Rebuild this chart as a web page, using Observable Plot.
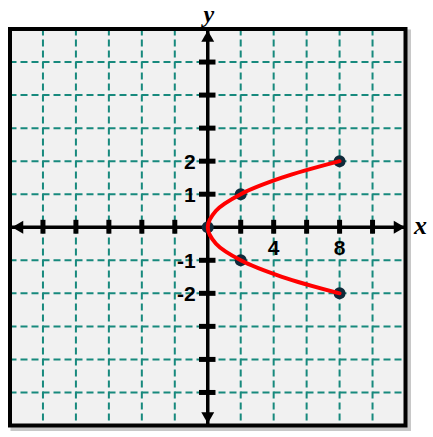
<!DOCTYPE html>
<html>
<head>
<meta charset="utf-8">
<script src="https://cdn.jsdelivr.net/npm/d3@7"></script>
<script src="https://cdn.jsdelivr.net/npm/@observablehq/plot@0.6"></script>
<style>
  html, body { margin: 0; padding: 0; background: #ffffff; }
  #chart svg { display: block; }
</style>
</head>
<body>
<div id="chart"></div>
<script>
// Domain of the graph paper
const xDomain = [-12, 12];
const yDomain = [-6, 6];

// Grid line positions (dashed)
const xGrid = [-10, -8, -6, -4, -2, 2, 4, 6, 8, 10];
const yGrid = [-5, -4, -3, -2, -1, 1, 2, 3, 4, 5];

// Tick labels
const xTickLabels = [4, 8];
const yTickLabels = [2, 1, -1, -2];

// Plotted points of x = 2y^2
const pointX = [0, 2, 2, 8, 8];
const pointY = [0, 1, -1, 2, -2];

// Curve (ordered along the curve)
const curveX = [8, 4.5, 2, 0.5, 0, 0.5, 2, 4.5, 8];
const curveY = [-2, -1.5, -1, -0.5, 0, 0.5, 1, 1.5, 2];

const points = pointX.map((x, i) => ({x, y: pointY[i]}));
const curve = curveX.map((x, i) => ({x, y: curveY[i]}));

const teal = "#17897d";
const numFont = "Liberation Sans, Arial, sans-serif";
const serif = "Liberation Serif, Times New Roman, serif";

const arrowStyle = {symbol: "triangle", r: 4.8, fill: "#000", stroke: "none"};

const chart = Plot.plot({
  width: 433,
  height: 437,
  marginLeft: 9.5,
  marginRight: 28,
  marginTop: 28.5,
  marginBottom: 12,
  x: {domain: xDomain, axis: null},
  y: {domain: yDomain, axis: null},
  style: {background: "#ffffff", overflow: "visible"},
  marks: [
    // shadow
    Plot.frame({stroke: "#9a9a9a", strokeWidth: 5, strokeOpacity: 0.55, dx: 3, dy: 3}),
    Plot.frame({fill: "#f1f1f1", stroke: "none"}),
    // dashed grid
    Plot.ruleX(xGrid, {stroke: teal, strokeWidth: 2, strokeDasharray: "7,4"}),
    Plot.ruleY(yGrid, {stroke: teal, strokeWidth: 2, strokeDasharray: "7,4"}),
    // axes
    Plot.ruleX([0], {stroke: "#000", strokeWidth: 3.5}),
    Plot.ruleY([0], {stroke: "#000", strokeWidth: 3.5}),
    // tick marks
    Plot.ruleY(yGrid, {x1: -0.5, x2: 0.5, stroke: "#000", strokeWidth: 5}),
    Plot.ruleX(xGrid, {y1: -0.21, y2: 0.21, stroke: "#000", strokeWidth: 5}),
    // arrow heads
    Plot.dot([{x: 0, y: yDomain[1]}], {x: "x", y: "y", rotate: 0, dy: 9, ...arrowStyle}),
    Plot.dot([{x: 0, y: yDomain[0]}], {x: "x", y: "y", rotate: 180, dy: -9.5, ...arrowStyle}),
    Plot.dot([{x: xDomain[1], y: 0}], {x: "x", y: "y", rotate: 90, dx: -8, ...arrowStyle}),
    Plot.dot([{x: xDomain[0], y: 0}], {x: "x", y: "y", rotate: -90, dx: 9.5, ...arrowStyle}),
    // tick labels
    Plot.text(yTickLabels, {x: 0, y: d => d, text: d => String(d), textAnchor: "end", dx: -12, dy: 1,
      fontSize: 21, fontWeight: "bold", fontFamily: numFont, fill: "#000"}),
    Plot.text(xTickLabels, {x: d => d, y: 0, text: d => String(d), dy: 21,
      fontSize: 21, fontWeight: "bold", fontFamily: numFont, fill: "#000"}),
    // axis names
    Plot.text(["y"], {x: 0, y: yDomain[1], text: d => d, dy: -15, dx: 1,
      fontSize: 24, fontStyle: "italic", fontWeight: "bold", fontFamily: serif, fill: "#000"}),
    Plot.text(["x"], {x: xDomain[1], y: 0, text: d => d, dx: 15, dy: -2,
      fontSize: 26, fontStyle: "italic", fontWeight: "bold", fontFamily: serif, fill: "#000"}),
    // points
    Plot.dot(points, {x: "x", y: "y", r: 6, fill: "#0f2a3a", stroke: "none"}),
    // curve
    Plot.line(curve, {x: "x", y: "y", stroke: "#ff0000", strokeWidth: 4, curve: "catmull-rom"}),
    // border
    Plot.frame({stroke: "#000", strokeWidth: 4})
  ]
});

document.getElementById("chart").append(chart);
</script>
</body>
</html>
